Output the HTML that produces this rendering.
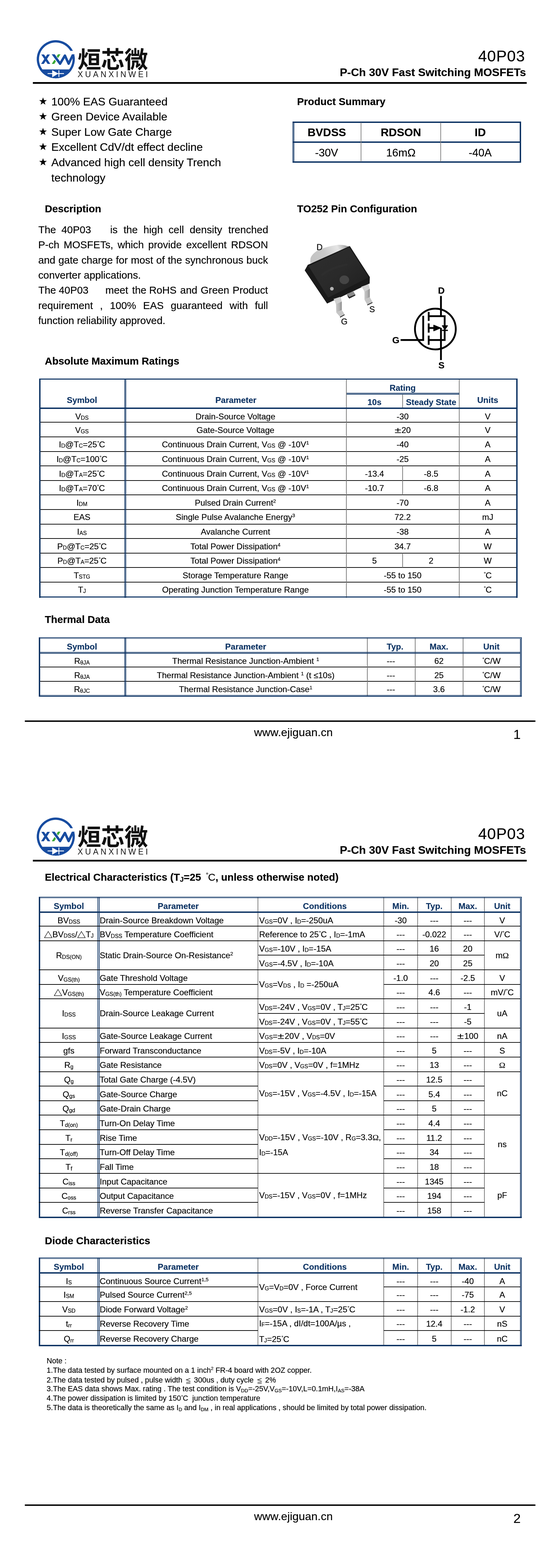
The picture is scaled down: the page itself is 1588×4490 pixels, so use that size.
<!DOCTYPE html>
<html><head><meta charset="utf-8"><title>40P03 Datasheet</title>
<style>
html,body{margin:0;padding:0;background:#fff;}
body{width:1588px;height:4490px;position:relative;overflow:hidden;will-change:transform;font-family:"Liberation Sans",sans-serif;color:#000;}
.r{position:absolute;}
.t{position:absolute;white-space:pre;-webkit-text-stroke:0.22px currentColor;}
.s{font-size:66%;position:relative;}
.p{font-size:62%;position:relative;top:-0.57em;}
.dg{font-size:62%;position:relative;top:-0.54em;margin-right:-0.05em;margin-left:0.02em;}
.tri{display:inline-block;width:1.0em;height:0.84em;position:relative;top:0.08em;}
svg{position:absolute;overflow:visible;}
svg.tri{position:relative;}
svg.le{display:inline-block;position:relative;width:21.35px;height:18px;top:5px;}
</style></head><body>
<svg style="left:99.75px;top:110px" width="340" height="125" viewBox="0 0 340 125"><path d="M109.10 46.44 A51.25 51.25 0 1 1 107.12 40.50" fill="none" stroke="#174ca0" stroke-width="6.5"/><rect x="97" y="35.6" width="20" height="8" fill="#fff"/><path d="M13.5 88.8 A54.5 54.5 0 0 0 105.7 88.8 Z" fill="#174ca0"/><path d="M36.2 100.8 H83 M68.5 90.9 V110.4" stroke="#fff" stroke-width="2.4" fill="none"/><path d="M49.4 90.9 L49.4 111.3 L67.2 100.8 Z" fill="#fff"/><path d="M18.2 46.1 H26 L44 73.1 H36.2 Z M35 46.1 H42.8 L25.4 73.1 H17.6 Z" fill="#174ca0"/><path d="M65.9 45.5 H73.1 L55.3 73.1 H48.1 Z" fill="#3aa935"/><path d="M54 49 L65 63.5" stroke="#fff" stroke-width="10.5" fill="none"/><clipPath id="wc0"><rect x="40" y="45.5" width="80" height="40"/></clipPath><path clip-path="url(#wc0)" d="M50.2 42.8 L71.9 72.4 L85.7 49 L96.3 72.4 L110.6 43" fill="none" stroke="#174ca0" stroke-width="6.9" stroke-linejoin="round"/><text x="121.9 189.1 256.3" y="84.8" font-family="Liberation Sans, Noto Sans CJK SC, sans-serif" font-size="67.2" font-weight="bold" fill="#111">烜芯微</text><text x="122" y="111.3" font-family="Liberation Sans, sans-serif" font-size="23" letter-spacing="6.15" fill="#111">XUANXINWEI</text></svg>
<div class="r" style="left:94px;top:235px;width:1413px;height:4.7px;background:#000"></div>
<div class="t" style="top:139px;font-size:44.6px;line-height:44.6px;left:302.6px;width:1200px;text-align:right;letter-spacing:1.1px;">40P03</div>
<div class="t" style="top:191px;font-size:32px;line-height:32px;font-weight:bold;left:305px;width:1200px;text-align:right;">P-Ch 30V Fast Switching MOSFETs</div>
<svg style="left:0;top:0" width="1" height="1"><polygon points="123.10,278.87 125.82,286.69 134.08,286.86 127.49,291.85 129.89,299.77 123.10,295.04 116.31,299.77 118.71,291.85 112.12,286.86 120.38,286.69" fill="#000"/></svg>
<div class="t" style="top:275px;font-size:32px;line-height:32px;left:146.8px;">100% EAS Guaranteed</div>
<svg style="left:0;top:0" width="1" height="1"><polygon points="123.10,321.87 125.82,329.69 134.08,329.86 127.49,334.85 129.89,342.77 123.10,338.04 116.31,342.77 118.71,334.85 112.12,329.86 120.38,329.69" fill="#000"/></svg>
<div class="t" style="top:318px;font-size:32px;line-height:32px;left:146.8px;">Green Device Available</div>
<svg style="left:0;top:0" width="1" height="1"><polygon points="123.10,365.87 125.82,373.69 134.08,373.86 127.49,378.85 129.89,386.77 123.10,382.04 116.31,386.77 118.71,378.85 112.12,373.86 120.38,373.69" fill="#000"/></svg>
<div class="t" style="top:362px;font-size:32px;line-height:32px;left:146.8px;">Super Low Gate Charge</div>
<svg style="left:0;top:0" width="1" height="1"><polygon points="123.10,408.87 125.82,416.69 134.08,416.86 127.49,421.85 129.89,429.77 123.10,425.04 116.31,429.77 118.71,421.85 112.12,416.86 120.38,416.69" fill="#000"/></svg>
<div class="t" style="top:405px;font-size:32px;line-height:32px;left:146.8px;">Excellent CdV/dt effect decline</div>
<svg style="left:0;top:0" width="1" height="1"><polygon points="123.10,452.87 125.82,460.69 134.08,460.86 127.49,465.85 129.89,473.77 123.10,469.04 116.31,473.77 118.71,465.85 112.12,460.86 120.38,460.69" fill="#000"/></svg>
<div class="t" style="top:449px;font-size:32px;line-height:32px;left:146.8px;">Advanced high cell density Trench</div>
<div class="t" style="top:493px;font-size:32px;line-height:32px;left:146.8px;">technology</div>
<div class="t" style="top:276px;font-size:29.35px;line-height:29.35px;font-weight:bold;left:850px;">Product Summary</div>
<div class="r" style="left:837px;top:348.1px;width:653.9px;height:3.7px;background:#0e3464"></div>
<div class="r" style="left:837px;top:462px;width:653.9px;height:3.7px;background:#0e3464"></div>
<div class="r" style="left:837px;top:348.1px;width:1.9px;height:117.6px;background:#0e3464"></div>
<div class="r" style="left:839.9px;top:348.1px;width:2.2px;height:117.6px;background:#0e3464"></div>
<div class="r" style="left:1487.1px;top:348.1px;width:3.8px;height:117.6px;background:#0e3464"></div>
<div class="r" style="left:837px;top:405.1px;width:653.9px;height:3.6px;background:#0e3464"></div>
<div class="r" style="left:1032px;top:351.1px;width:2px;height:111.6px;background:#808080"></div>
<div class="r" style="left:1260px;top:351.1px;width:2px;height:111.6px;background:#808080"></div>
<div class="t" style="top:363px;font-size:32px;line-height:32px;font-weight:bold;left:335px;width:1200px;text-align:center;">BVDSS</div>
<div class="t" style="top:422px;font-size:31.2px;line-height:31.2px;left:334.5px;width:1200px;text-align:center;">-30V</div>
<div class="t" style="top:363px;font-size:32px;line-height:32px;font-weight:bold;left:547px;width:1200px;text-align:center;">RDSON</div>
<div class="t" style="top:422px;font-size:31.2px;line-height:31.2px;left:547px;width:1200px;text-align:center;">16mΩ</div>
<div class="t" style="top:363px;font-size:32px;line-height:32px;font-weight:bold;left:774px;width:1200px;text-align:center;">ID</div>
<div class="t" style="top:422px;font-size:31.2px;line-height:31.2px;left:774px;width:1200px;text-align:center;">-40A</div>
<div class="t" style="top:583px;font-size:29.35px;line-height:29.35px;font-weight:bold;left:128.2px;">Description</div>
<div class="t" style="top:583px;font-size:29.35px;line-height:29.35px;font-weight:bold;left:850px;">TO252 Pin Configuration</div>
<div class="t" style="top:643px;font-size:29.35px;line-height:29.35px;left:0px;width:800px;height:30px;"><span style="position:absolute;left:109.8px">The</span><span style="position:absolute;left:175.8px">40P03</span><span style="position:absolute;left:315.2px">is</span><span style="position:absolute;left:353.4px">the</span><span style="position:absolute;left:410.5px">high</span><span style="position:absolute;left:482.2px">cell</span><span style="position:absolute;left:542.7px">density</span><span style="position:absolute;left:653.3px">trenched</span></div>
<div class="t" style="top:686px;font-size:29.35px;line-height:29.35px;left:109.4px;width:657.5px;white-space:pre-wrap;text-align:justify;text-align-last:justify;">P-ch MOSFETs, which provide excellent RDSON</div>
<div class="t" style="top:730px;font-size:29.35px;line-height:29.35px;left:109.4px;width:657.5px;white-space:pre-wrap;text-align:justify;text-align-last:justify;">and gate charge for most of the synchronous buck</div>
<div class="t" style="top:773px;font-size:29.35px;line-height:29.35px;left:109.4px;width:657.5px;white-space:pre-wrap;">converter applications.</div>
<div class="t" style="top:816px;font-size:29.35px;line-height:29.35px;left:0px;width:800px;height:30px;"><span style="position:absolute;left:109.8px">The</span><span style="position:absolute;left:168.3px">40P03</span><span style="position:absolute;left:301.5px">meet</span><span style="position:absolute;left:378px">the</span><span style="position:absolute;left:426.8px">RoHS</span><span style="position:absolute;left:515.6px">and</span><span style="position:absolute;left:574.3px">Green</span><span style="position:absolute;left:665.6px">Product</span></div>
<div class="t" style="top:860px;font-size:29.35px;line-height:29.35px;left:109.4px;width:657.5px;white-space:pre-wrap;text-align:justify;text-align-last:justify;">requirement , 100% EAS guaranteed with full</div>
<div class="t" style="top:903px;font-size:29.35px;line-height:29.35px;left:109.4px;width:657.5px;white-space:pre-wrap;">function reliability approved.</div>
<svg style="left:860px;top:680px" width="260" height="270" viewBox="0 0 260 270"><defs>
<linearGradient id="tab" x1="0" y1="0.2" x2="1" y2="0"><stop offset="0" stop-color="#c4c4c4"/><stop offset="0.3" stop-color="#c9c9c9"/><stop offset="0.68" stop-color="#e6e6e6"/><stop offset="0.86" stop-color="#b4b4b4"/><stop offset="1" stop-color="#787878"/></linearGradient>
<linearGradient id="top" x1="0" y1="0" x2="1" y2="1"><stop offset="0" stop-color="#2e2e2e"/><stop offset="0.5" stop-color="#2a2a2a"/><stop offset="1" stop-color="#1d1d1d"/></linearGradient>
<linearGradient id="lead" x1="0" y1="0" x2="1" y2="0"><stop offset="0" stop-color="#c9c9c9"/><stop offset="0.6" stop-color="#b0b0b0"/><stop offset="1" stop-color="#8e8e8e"/></linearGradient>
<linearGradient id="leadv" x1="0" y1="0" x2="0" y2="1"><stop offset="0" stop-color="#8a8a8a"/><stop offset="0.25" stop-color="#d8d8d8"/><stop offset="1" stop-color="#b0b0b0"/></linearGradient>
</defs><g transform="scale(0.26344)"><path d="M104 279 L108 226 Q118 190 169 152 Q230 118 300 101 Q380 82 414 80 Q470 80 502 92 L532 98 L300 250 Z" fill="url(#tab)"/><path d="M45 358 L78 298 L535 93 L752 430 L750 500 L288 718 Z" fill="#1a1a1a"/><path d="M88 312 L528 106 L740 434 L300 654 Z" fill="url(#top)"/><path d="M235 405 Q330 330 500 295" fill="none" stroke="#343434" stroke-width="24" stroke-linecap="round" opacity="0.35"/><ellipse cx="475" cy="460" rx="52" ry="47" fill="#454545"/><circle cx="340" cy="557" r="20" fill="#b4b4b4"/><path d="M504 612 L574 586 L594 619 L528 646 Z" fill="#8c8c8c"/><path d="M504 612 L528 646 L594 619 L594 632 L529 664 L515 648 Z" fill="#262626"/><path d="M357 669 L428 646 L438 656 L448 700 L385 730 Q376 692 357 669 Z" fill="#d0d0d0"/><path d="M385 726 L448 697 L448 789 L388 816 Z" fill="url(#lead)"/><path d="M388 816 L448 789 L478 835 L428 862 Z" fill="#c6c6c6"/><path d="M428 862 L478 835 L478 845 L430 872 Z" fill="#303030"/><path d="M658 536 L734 509 L742 519 L752 560 L694 592 Q684 560 658 536 Z" fill="#d0d0d0"/><path d="M694 589 L752 558 L752 649 L694 676 Z" fill="url(#lead)"/><path d="M694 676 L752 649 L781 702 L724 729 Z" fill="#c6c6c6"/><path d="M724 729 L781 702 L781 712 L726 739 Z" fill="#303030"/></g></svg>
<div class="t" style="top:696px;font-size:24px;line-height:24px;color:#111;left:905.8px;-webkit-text-stroke:0.5px #111;">D</div>
<div class="t" style="top:874px;font-size:24px;line-height:24px;color:#111;left:1056.8px;-webkit-text-stroke:0.5px #111;">S</div>
<div class="t" style="top:909px;font-size:24px;line-height:24px;color:#111;left:975.8px;-webkit-text-stroke:0.5px #111;">G</div>
<svg style="left:1110px;top:810px" width="230" height="270" viewBox="1110 810 230 270"><g fill="none" stroke="#000" stroke-width="5.2"><circle cx="1245.7" cy="942.2" r="58.4"/><path d="M1261.7 847.5 V905.4"/><path d="M1226.6 905.4 H1272.3 V973.7 H1226.6"/><path d="M1261.7 939.2 V1031"/><path d="M1226.6 939.2 H1243"/><path d="M1146.2 973.7 H1210.9 V904.2"/><path d="M1226.6 893.3 V918.7 M1226.6 925.9 V952.5 M1226.6 960.9 V987.5"/><path d="M1264.6 946 H1281.5" stroke-width="3.5"/></g><path d="M1241 931 V947.6 L1261 939.2 Z" fill="#000" stroke="#000" stroke-width="2" stroke-linejoin="round"/><path d="M1265.4 932.6 H1280.6 L1273 944.2 Z" fill="#000" stroke="#000" stroke-width="2" stroke-linejoin="round"/></svg>
<div class="t" style="top:819px;font-size:26.5px;line-height:26.5px;font-weight:bold;left:662.8px;width:1200px;text-align:center;">D</div>
<div class="t" style="top:961px;font-size:26.5px;line-height:26.5px;font-weight:bold;left:532.6px;width:1200px;text-align:center;">G</div>
<div class="t" style="top:1033px;font-size:26.5px;line-height:26.5px;font-weight:bold;left:663.1px;width:1200px;text-align:center;">S</div>
<div class="t" style="top:1019px;font-size:29.35px;line-height:29.35px;font-weight:bold;left:128.2px;">Absolute Maximum Ratings</div>
<div class="r" style="left:111.5px;top:1208px;width:880px;height:2px;background:#000"></div>
<div class="r" style="left:991.5px;top:1208px;width:489.4px;height:2px;background:#000"></div>
<div class="r" style="left:111.5px;top:1250px;width:880px;height:2px;background:#000"></div>
<div class="r" style="left:991.5px;top:1250px;width:489.4px;height:2px;background:#000"></div>
<div class="r" style="left:111.5px;top:1292px;width:880px;height:2px;background:#000"></div>
<div class="r" style="left:991.5px;top:1292px;width:489.4px;height:2px;background:#000"></div>
<div class="r" style="left:111.5px;top:1333px;width:880px;height:2px;background:#000"></div>
<div class="r" style="left:991.5px;top:1333px;width:489.4px;height:2px;background:#000"></div>
<div class="r" style="left:111.5px;top:1375px;width:880px;height:2px;background:#000"></div>
<div class="r" style="left:991.5px;top:1375px;width:489.4px;height:2px;background:#000"></div>
<div class="r" style="left:111.5px;top:1416px;width:880px;height:2px;background:#000"></div>
<div class="r" style="left:991.5px;top:1416px;width:489.4px;height:2px;background:#000"></div>
<div class="r" style="left:111.5px;top:1458px;width:880px;height:2px;background:#000"></div>
<div class="r" style="left:991.5px;top:1458px;width:489.4px;height:2px;background:#000"></div>
<div class="r" style="left:111.5px;top:1500px;width:880px;height:2px;background:#000"></div>
<div class="r" style="left:991.5px;top:1500px;width:489.4px;height:2px;background:#000"></div>
<div class="r" style="left:111.5px;top:1541px;width:880px;height:2px;background:#000"></div>
<div class="r" style="left:991.5px;top:1541px;width:489.4px;height:2px;background:#000"></div>
<div class="r" style="left:111.5px;top:1583px;width:880px;height:2px;background:#000"></div>
<div class="r" style="left:991.5px;top:1583px;width:489.4px;height:2px;background:#000"></div>
<div class="r" style="left:111.5px;top:1624px;width:880px;height:2px;background:#000"></div>
<div class="r" style="left:991.5px;top:1624px;width:489.4px;height:2px;background:#000"></div>
<div class="r" style="left:111.5px;top:1666px;width:880px;height:2px;background:#000"></div>
<div class="r" style="left:991.5px;top:1666px;width:489.4px;height:2px;background:#000"></div>
<div class="r" style="left:990px;top:1084px;width:2px;height:627.5px;background:#787878"></div>
<div class="r" style="left:1313px;top:1084px;width:2px;height:627.5px;background:#787878"></div>
<div class="r" style="left:1151px;top:1129px;width:2px;height:40px;background:#787878"></div>
<div class="r" style="left:1151px;top:1334.2px;width:2px;height:41.6px;background:#787878"></div>
<div class="r" style="left:1151px;top:1375.8px;width:2px;height:41.6px;background:#787878"></div>
<div class="r" style="left:1151px;top:1583.8px;width:2px;height:41.6px;background:#787878"></div>
<div class="r" style="left:356px;top:1084px;width:2px;height:627.5px;background:#0e3464"></div>
<div class="r" style="left:359px;top:1084px;width:2px;height:627.5px;background:#0e3464"></div>
<div class="r" style="left:991.5px;top:1125px;width:322.5px;height:1.5px;background:#0e3464"></div>
<div class="r" style="left:991.5px;top:1128px;width:322.5px;height:1.5px;background:#0e3464"></div>
<div class="r" style="left:111.5px;top:1166.8px;width:1369.4px;height:4.2px;background:#0e3464"></div>
<div class="r" style="left:111.5px;top:1084px;width:1369.4px;height:3.4px;background:#0e3464"></div>
<div class="r" style="left:111.5px;top:1707.9px;width:1369.4px;height:3.6px;background:#0e3464"></div>
<div class="r" style="left:111.5px;top:1084px;width:4px;height:627.5px;background:#0e3464"></div>
<div class="r" style="left:1477.1px;top:1084px;width:3.8px;height:627.5px;background:#0e3464"></div>
<div class="t" style="top:1134px;font-size:24px;line-height:24px;font-weight:bold;color:#0e3464;left:-365.5px;width:1200px;text-align:center;">Symbol</div>
<div class="t" style="top:1134px;font-size:24px;line-height:24px;font-weight:bold;color:#0e3464;left:75px;width:1200px;text-align:center;">Parameter</div>
<div class="t" style="top:1099px;font-size:24px;line-height:24px;font-weight:bold;color:#0e3464;left:552px;width:1200px;text-align:center;">Rating</div>
<div class="t" style="top:1140px;font-size:24px;line-height:24px;font-weight:bold;color:#0e3464;left:471.5px;width:1200px;text-align:center;">10s</div>
<div class="t" style="top:1140px;font-size:24px;line-height:24px;font-weight:bold;color:#0e3464;left:633.5px;width:1200px;text-align:center;">Steady State</div>
<div class="t" style="top:1134px;font-size:24px;line-height:24px;font-weight:bold;color:#0e3464;left:795.5px;width:1200px;text-align:center;">Units</div>
<div class="t" style="top:1181px;font-size:24px;line-height:24px;left:-365.5px;width:1200px;text-align:center;">V<span class="s" style="top:1px">DS</span></div>
<div class="t" style="top:1181px;font-size:24px;line-height:24px;left:73.7px;width:1200px;text-align:center;">Drain-Source Voltage</div>
<div class="t" style="top:1181px;font-size:24px;line-height:24px;left:552px;width:1200px;text-align:center;">-30</div>
<div class="t" style="top:1181px;font-size:24px;line-height:24px;left:795.5px;width:1200px;text-align:center;">V</div>
<div class="t" style="top:1220px;font-size:24px;line-height:24px;left:-365.5px;width:1200px;text-align:center;">V<span class="s" style="top:1px">GS</span></div>
<div class="t" style="top:1220px;font-size:24px;line-height:24px;left:73.7px;width:1200px;text-align:center;">Gate-Source Voltage</div>
<div class="t" style="top:1220px;font-size:24px;line-height:24px;left:552px;width:1200px;text-align:center;"><span style="display:inline-block;transform:scaleX(1.45);margin:0 4px 0 3px">±</span>20</div>
<div class="t" style="top:1220px;font-size:24px;line-height:24px;left:795.5px;width:1200px;text-align:center;">V</div>
<div class="t" style="top:1261px;font-size:24px;line-height:24px;left:-365.5px;width:1200px;text-align:center;">I<span class="s" style="top:1px">D</span>@T<span class="s" style="top:1px">C</span>=25<span class="dg">°</span>C</div>
<div class="t" style="top:1261px;font-size:24px;line-height:24px;left:73.7px;width:1200px;text-align:center;">Continuous Drain Current, V<span class="s" style="top:1px">GS</span> @ -10V<span class="p">1</span></div>
<div class="t" style="top:1261px;font-size:24px;line-height:24px;left:552px;width:1200px;text-align:center;">-40</div>
<div class="t" style="top:1261px;font-size:24px;line-height:24px;left:795.5px;width:1200px;text-align:center;">A</div>
<div class="t" style="top:1303px;font-size:24px;line-height:24px;left:-365.5px;width:1200px;text-align:center;">I<span class="s" style="top:1px">D</span>@T<span class="s" style="top:1px">C</span>=100<span class="dg">°</span>C</div>
<div class="t" style="top:1303px;font-size:24px;line-height:24px;left:73.7px;width:1200px;text-align:center;">Continuous Drain Current, V<span class="s" style="top:1px">GS</span> @ -10V<span class="p">1</span></div>
<div class="t" style="top:1303px;font-size:24px;line-height:24px;left:552px;width:1200px;text-align:center;">-25</div>
<div class="t" style="top:1303px;font-size:24px;line-height:24px;left:795.5px;width:1200px;text-align:center;">A</div>
<div class="t" style="top:1345px;font-size:24px;line-height:24px;left:-365.5px;width:1200px;text-align:center;">I<span class="s" style="top:1px">D</span>@T<span class="s" style="top:1px">A</span>=25<span class="dg">°</span>C</div>
<div class="t" style="top:1345px;font-size:24px;line-height:24px;left:73.7px;width:1200px;text-align:center;">Continuous Drain Current, V<span class="s" style="top:1px">GS</span> @ -10V<span class="p">1</span></div>
<div class="t" style="top:1345px;font-size:24px;line-height:24px;left:471.5px;width:1200px;text-align:center;">-13.4</div>
<div class="t" style="top:1345px;font-size:24px;line-height:24px;left:633.5px;width:1200px;text-align:center;">-8.5</div>
<div class="t" style="top:1345px;font-size:24px;line-height:24px;left:795.5px;width:1200px;text-align:center;">A</div>
<div class="t" style="top:1386px;font-size:24px;line-height:24px;left:-365.5px;width:1200px;text-align:center;">I<span class="s" style="top:1px">D</span>@T<span class="s" style="top:1px">A</span>=70<span class="dg">°</span>C</div>
<div class="t" style="top:1386px;font-size:24px;line-height:24px;left:73.7px;width:1200px;text-align:center;">Continuous Drain Current, V<span class="s" style="top:1px">GS</span> @ -10V<span class="p">1</span></div>
<div class="t" style="top:1386px;font-size:24px;line-height:24px;left:471.5px;width:1200px;text-align:center;">-10.7</div>
<div class="t" style="top:1386px;font-size:24px;line-height:24px;left:633.5px;width:1200px;text-align:center;">-6.8</div>
<div class="t" style="top:1386px;font-size:24px;line-height:24px;left:795.5px;width:1200px;text-align:center;">A</div>
<div class="t" style="top:1428px;font-size:24px;line-height:24px;left:-365.5px;width:1200px;text-align:center;">I<span class="s" style="top:1px">DM</span></div>
<div class="t" style="top:1428px;font-size:24px;line-height:24px;left:73.7px;width:1200px;text-align:center;">Pulsed Drain Current<span class="p">2</span></div>
<div class="t" style="top:1428px;font-size:24px;line-height:24px;left:552px;width:1200px;text-align:center;">-70</div>
<div class="t" style="top:1428px;font-size:24px;line-height:24px;left:795.5px;width:1200px;text-align:center;">A</div>
<div class="t" style="top:1469px;font-size:24px;line-height:24px;left:-365.5px;width:1200px;text-align:center;">EAS</div>
<div class="t" style="top:1469px;font-size:24px;line-height:24px;left:73.7px;width:1200px;text-align:center;">Single Pulse Avalanche Energy<span class="p">3</span></div>
<div class="t" style="top:1469px;font-size:24px;line-height:24px;left:552px;width:1200px;text-align:center;">72.2</div>
<div class="t" style="top:1469px;font-size:24px;line-height:24px;left:795.5px;width:1200px;text-align:center;">mJ</div>
<div class="t" style="top:1511px;font-size:24px;line-height:24px;left:-365.5px;width:1200px;text-align:center;">I<span class="s" style="top:1px">AS</span></div>
<div class="t" style="top:1511px;font-size:24px;line-height:24px;left:73.7px;width:1200px;text-align:center;">Avalanche Current</div>
<div class="t" style="top:1511px;font-size:24px;line-height:24px;left:552px;width:1200px;text-align:center;">-38</div>
<div class="t" style="top:1511px;font-size:24px;line-height:24px;left:795.5px;width:1200px;text-align:center;">A</div>
<div class="t" style="top:1553px;font-size:24px;line-height:24px;left:-365.5px;width:1200px;text-align:center;">P<span class="s" style="top:1px">D</span>@T<span class="s" style="top:1px">C</span>=25<span class="dg">°</span>C</div>
<div class="t" style="top:1553px;font-size:24px;line-height:24px;left:73.7px;width:1200px;text-align:center;">Total Power Dissipation<span class="p">4</span></div>
<div class="t" style="top:1553px;font-size:24px;line-height:24px;left:552px;width:1200px;text-align:center;">34.7</div>
<div class="t" style="top:1553px;font-size:24px;line-height:24px;left:795.5px;width:1200px;text-align:center;">W</div>
<div class="t" style="top:1594px;font-size:24px;line-height:24px;left:-365.5px;width:1200px;text-align:center;">P<span class="s" style="top:1px">D</span>@T<span class="s" style="top:1px">A</span>=25<span class="dg">°</span>C</div>
<div class="t" style="top:1594px;font-size:24px;line-height:24px;left:73.7px;width:1200px;text-align:center;">Total Power Dissipation<span class="p">4</span></div>
<div class="t" style="top:1594px;font-size:24px;line-height:24px;left:471.5px;width:1200px;text-align:center;">5</div>
<div class="t" style="top:1594px;font-size:24px;line-height:24px;left:633.5px;width:1200px;text-align:center;">2</div>
<div class="t" style="top:1594px;font-size:24px;line-height:24px;left:795.5px;width:1200px;text-align:center;">W</div>
<div class="t" style="top:1636px;font-size:24px;line-height:24px;left:-365.5px;width:1200px;text-align:center;">T<span class="s" style="top:1px">STG</span></div>
<div class="t" style="top:1636px;font-size:24px;line-height:24px;left:73.7px;width:1200px;text-align:center;">Storage Temperature Range</div>
<div class="t" style="top:1636px;font-size:24px;line-height:24px;left:552px;width:1200px;text-align:center;">-55 to 150</div>
<div class="t" style="top:1636px;font-size:24px;line-height:24px;left:795.5px;width:1200px;text-align:center;"><span class="dg">°</span>C</div>
<div class="t" style="top:1677px;font-size:24px;line-height:24px;left:-365.5px;width:1200px;text-align:center;">T<span class="s" style="top:1px">J</span></div>
<div class="t" style="top:1677px;font-size:24px;line-height:24px;left:73.7px;width:1200px;text-align:center;">Operating Junction Temperature Range</div>
<div class="t" style="top:1677px;font-size:24px;line-height:24px;left:552px;width:1200px;text-align:center;">-55 to 150</div>
<div class="t" style="top:1677px;font-size:24px;line-height:24px;left:795.5px;width:1200px;text-align:center;"><span class="dg">°</span>C</div>
<div class="t" style="top:1759px;font-size:29.35px;line-height:29.35px;font-weight:bold;left:128.2px;">Thermal Data</div>
<div class="r" style="left:111px;top:1909px;width:1378px;height:2px;background:#000"></div>
<div class="r" style="left:111px;top:1950px;width:1378px;height:2px;background:#000"></div>
<div class="r" style="left:1050px;top:1825.2px;width:2px;height:169.8px;background:#787878"></div>
<div class="r" style="left:1187px;top:1825.2px;width:2px;height:169.8px;background:#787878"></div>
<div class="r" style="left:1324px;top:1825.2px;width:2px;height:169.8px;background:#787878"></div>
<div class="r" style="left:356px;top:1825.2px;width:2px;height:169.8px;background:#0e3464"></div>
<div class="r" style="left:359px;top:1825.2px;width:2px;height:169.8px;background:#0e3464"></div>
<div class="r" style="left:111px;top:1867px;width:1379px;height:2px;background:#0e3464"></div>
<div class="r" style="left:111px;top:1870px;width:1379px;height:2px;background:#0e3464"></div>
<div class="r" style="left:111px;top:1825.2px;width:1382px;height:2px;background:#0e3464"></div>
<div class="r" style="left:111px;top:1827.9px;width:1379px;height:1.1px;background:#0e3464"></div>
<div class="r" style="left:111px;top:1992.4px;width:1382px;height:2.6px;background:#0e3464"></div>
<div class="r" style="left:111px;top:1990.2px;width:1379px;height:1.2px;background:#0e3464"></div>
<div class="r" style="left:111px;top:1825.2px;width:4.1px;height:169.8px;background:#0e3464"></div>
<div class="r" style="left:1490.9px;top:1825.2px;width:2.1px;height:169.8px;background:#0e3464"></div>
<div class="r" style="left:1488px;top:1827.9px;width:2.1px;height:164.8px;background:#0e3464"></div>
<div class="t" style="top:1840px;font-size:24px;line-height:24px;font-weight:bold;color:#0e3464;left:-365.5px;width:1200px;text-align:center;">Symbol</div>
<div class="t" style="top:1840px;font-size:24px;line-height:24px;font-weight:bold;color:#0e3464;left:103px;width:1200px;text-align:center;">Parameter</div>
<div class="t" style="top:1840px;font-size:24px;line-height:24px;font-weight:bold;color:#0e3464;left:530.4px;width:1200px;text-align:center;">Typ.</div>
<div class="t" style="top:1840px;font-size:24px;line-height:24px;font-weight:bold;color:#0e3464;left:656px;width:1200px;text-align:center;">Max.</div>
<div class="t" style="top:1840px;font-size:24px;line-height:24px;font-weight:bold;color:#0e3464;left:806px;width:1200px;text-align:center;">Unit</div>
<div class="t" style="top:1881px;font-size:24px;line-height:24px;left:-365.5px;width:1200px;text-align:center;">R<span class="s" style="top:2px">θJA</span></div>
<div class="t" style="top:1881px;font-size:24px;line-height:24px;left:103px;width:1200px;text-align:center;">Thermal Resistance Junction-Ambient <span class="p">1</span></div>
<div class="t" style="top:1881px;font-size:24px;line-height:24px;left:518.5px;width:1200px;text-align:center;">---</div>
<div class="t" style="top:1881px;font-size:24px;line-height:24px;left:656px;width:1200px;text-align:center;">62</div>
<div class="t" style="top:1881px;font-size:24px;line-height:24px;left:806px;width:1200px;text-align:center;"><span class="dg">°</span>C<span style="letter-spacing:0.6px">/</span>W</div>
<div class="t" style="top:1922px;font-size:24px;line-height:24px;left:-365.5px;width:1200px;text-align:center;">R<span class="s" style="top:2px">θJA</span></div>
<div class="t" style="top:1922px;font-size:24px;line-height:24px;left:103px;width:1200px;text-align:center;">Thermal Resistance Junction-Ambient <span class="p">1</span> (t ≤10s)</div>
<div class="t" style="top:1922px;font-size:24px;line-height:24px;left:518.5px;width:1200px;text-align:center;">---</div>
<div class="t" style="top:1922px;font-size:24px;line-height:24px;left:656px;width:1200px;text-align:center;">25</div>
<div class="t" style="top:1922px;font-size:24px;line-height:24px;left:806px;width:1200px;text-align:center;"><span class="dg">°</span>C<span style="letter-spacing:0.6px">/</span>W</div>
<div class="t" style="top:1962px;font-size:24px;line-height:24px;left:-365.5px;width:1200px;text-align:center;">R<span class="s" style="top:2px">θJC</span></div>
<div class="t" style="top:1962px;font-size:24px;line-height:24px;left:103px;width:1200px;text-align:center;">Thermal Resistance Junction-Case<span class="p">1</span></div>
<div class="t" style="top:1962px;font-size:24px;line-height:24px;left:518.5px;width:1200px;text-align:center;">---</div>
<div class="t" style="top:1962px;font-size:24px;line-height:24px;left:656px;width:1200px;text-align:center;">3.6</div>
<div class="t" style="top:1962px;font-size:24px;line-height:24px;left:806px;width:1200px;text-align:center;"><span class="dg">°</span>C<span style="letter-spacing:0.6px">/</span>W</div>
<div class="r" style="left:71px;top:2062.7px;width:1460.5px;height:4.4px;background:#000"></div>
<div class="t" style="top:2081px;font-size:32px;line-height:32px;left:727px;letter-spacing:0.2px;">www.ejiguan.cn</div>
<div class="t" style="top:2085px;font-size:37.4px;line-height:37.4px;left:879.5px;width:1200px;text-align:center;">1</div>
<svg style="left:99.75px;top:2336.4px" width="340" height="125" viewBox="0 0 340 125"><path d="M109.10 46.44 A51.25 51.25 0 1 1 107.12 40.50" fill="none" stroke="#174ca0" stroke-width="6.5"/><rect x="97" y="35.6" width="20" height="8" fill="#fff"/><path d="M13.5 88.8 A54.5 54.5 0 0 0 105.7 88.8 Z" fill="#174ca0"/><path d="M36.2 100.8 H83 M68.5 90.9 V110.4" stroke="#fff" stroke-width="2.4" fill="none"/><path d="M49.4 90.9 L49.4 111.3 L67.2 100.8 Z" fill="#fff"/><path d="M18.2 46.1 H26 L44 73.1 H36.2 Z M35 46.1 H42.8 L25.4 73.1 H17.6 Z" fill="#174ca0"/><path d="M65.9 45.5 H73.1 L55.3 73.1 H48.1 Z" fill="#3aa935"/><path d="M54 49 L65 63.5" stroke="#fff" stroke-width="10.5" fill="none"/><clipPath id="wc2227"><rect x="40" y="45.5" width="80" height="40"/></clipPath><path clip-path="url(#wc2227)" d="M50.2 42.8 L71.9 72.4 L85.7 49 L96.3 72.4 L110.6 43" fill="none" stroke="#174ca0" stroke-width="6.9" stroke-linejoin="round"/><text x="121.9 189.1 256.3" y="84.8" font-family="Liberation Sans, Noto Sans CJK SC, sans-serif" font-size="67.2" font-weight="bold" fill="#111">烜芯微</text><text x="122" y="111.3" font-family="Liberation Sans, sans-serif" font-size="23" letter-spacing="6.15" fill="#111">XUANXINWEI</text></svg>
<div class="r" style="left:94px;top:2462px;width:1413px;height:4.7px;background:#000"></div>
<div class="t" style="top:2366px;font-size:44.6px;line-height:44.6px;left:302.6px;width:1200px;text-align:right;letter-spacing:1.1px;">40P03</div>
<div class="t" style="top:2418px;font-size:32px;line-height:32px;font-weight:bold;left:305px;width:1200px;text-align:right;">P-Ch 30V Fast Switching MOSFETs</div>
<div class="t" style="top:2497px;font-size:29.35px;line-height:29.35px;font-weight:bold;left:128.2px;">Electrical Characteristics (T<span class="s" style="top:3px">J</span>=25 <span style="font-weight:normal;margin-left:-3px"> <span class="dg">°</span>C</span>, unless otherwise noted)</div>
<div class="r" style="left:737px;top:2568.1px;width:2px;height:919.8px;background:#787878"></div>
<div class="r" style="left:1097px;top:2568.1px;width:2px;height:919.8px;background:#787878"></div>
<div class="r" style="left:1194px;top:2568.1px;width:2px;height:919.8px;background:#787878"></div>
<div class="r" style="left:1290px;top:2568.1px;width:2px;height:919.8px;background:#787878"></div>
<div class="r" style="left:1385px;top:2568.1px;width:2px;height:919.8px;background:#787878"></div>
<div class="r" style="left:279px;top:2568.1px;width:2px;height:919.8px;background:#0e3464"></div>
<div class="r" style="left:283px;top:2568.1px;width:2px;height:919.8px;background:#0e3464"></div>
<div class="r" style="left:111.1px;top:2609.9px;width:1378.9px;height:3.8px;background:#0e3464"></div>
<div class="r" style="left:111.1px;top:2568.1px;width:1381.9px;height:2px;background:#0e3464"></div>
<div class="r" style="left:111.1px;top:2571px;width:1378.9px;height:1.1px;background:#0e3464"></div>
<div class="r" style="left:111.1px;top:3484px;width:1381.9px;height:3.9px;background:#0e3464"></div>
<div class="r" style="left:111.1px;top:2568.1px;width:3.8px;height:919.8px;background:#0e3464"></div>
<div class="r" style="left:1491px;top:2568.1px;width:2px;height:919.8px;background:#0e3464"></div>
<div class="r" style="left:1488px;top:2571px;width:2.1px;height:916.9px;background:#0e3464"></div>
<div class="t" style="top:2583px;font-size:24px;line-height:24px;font-weight:bold;color:#0e3464;left:-403px;width:1200px;text-align:center;">Symbol</div>
<div class="t" style="top:2583px;font-size:24px;line-height:24px;font-weight:bold;color:#0e3464;left:-90px;width:1200px;text-align:center;">Parameter</div>
<div class="t" style="top:2583px;font-size:24px;line-height:24px;font-weight:bold;color:#0e3464;left:329.5px;width:1200px;text-align:center;">Conditions</div>
<div class="t" style="top:2583px;font-size:24px;line-height:24px;font-weight:bold;color:#0e3464;left:546.5px;width:1200px;text-align:center;">Min.</div>
<div class="t" style="top:2583px;font-size:24px;line-height:24px;font-weight:bold;color:#0e3464;left:642.5px;width:1200px;text-align:center;">Typ.</div>
<div class="t" style="top:2583px;font-size:24px;line-height:24px;font-weight:bold;color:#0e3464;left:738.4px;width:1200px;text-align:center;">Max.</div>
<div class="t" style="top:2583px;font-size:24px;line-height:24px;font-weight:bold;color:#0e3464;left:837px;width:1200px;text-align:center;">Unit</div>
<div class="r" style="left:111.1px;top:2651px;width:626.9px;height:2px;background:#000"></div>
<div class="r" style="left:738px;top:2651px;width:360.4px;height:2px;background:#0a0a0a"></div>
<div class="r" style="left:1098.4px;top:2651px;width:287.8px;height:2px;background:#0a0a0a"></div>
<div class="r" style="left:1386.2px;top:2651px;width:102.8px;height:2px;background:#0a0a0a"></div>
<div class="r" style="left:111.1px;top:2693px;width:626.9px;height:2px;background:#000"></div>
<div class="r" style="left:738px;top:2693px;width:360.4px;height:2px;background:#0a0a0a"></div>
<div class="r" style="left:1098.4px;top:2693px;width:287.8px;height:2px;background:#0a0a0a"></div>
<div class="r" style="left:1386.2px;top:2693px;width:102.8px;height:2px;background:#0a0a0a"></div>
<div class="r" style="left:738px;top:2734px;width:360.4px;height:2px;background:#0a0a0a"></div>
<div class="r" style="left:1098.4px;top:2734px;width:287.8px;height:2px;background:#0a0a0a"></div>
<div class="r" style="left:111.1px;top:2776px;width:626.9px;height:2px;background:#000"></div>
<div class="r" style="left:738px;top:2776px;width:360.4px;height:2px;background:#0a0a0a"></div>
<div class="r" style="left:1098.4px;top:2776px;width:287.8px;height:2px;background:#0a0a0a"></div>
<div class="r" style="left:1386.2px;top:2776px;width:102.8px;height:2px;background:#0a0a0a"></div>
<div class="r" style="left:111.1px;top:2818px;width:626.9px;height:2px;background:#000"></div>
<div class="r" style="left:1098.4px;top:2818px;width:287.8px;height:2px;background:#0a0a0a"></div>
<div class="r" style="left:1386.2px;top:2818px;width:102.8px;height:2px;background:#0a0a0a"></div>
<div class="r" style="left:111.1px;top:2859px;width:626.9px;height:2px;background:#000"></div>
<div class="r" style="left:738px;top:2859px;width:360.4px;height:2px;background:#0a0a0a"></div>
<div class="r" style="left:1098.4px;top:2859px;width:287.8px;height:2px;background:#0a0a0a"></div>
<div class="r" style="left:1386.2px;top:2859px;width:102.8px;height:2px;background:#0a0a0a"></div>
<div class="r" style="left:738px;top:2901px;width:360.4px;height:2px;background:#0a0a0a"></div>
<div class="r" style="left:1098.4px;top:2901px;width:287.8px;height:2px;background:#0a0a0a"></div>
<div class="r" style="left:111.1px;top:2943px;width:626.9px;height:2px;background:#000"></div>
<div class="r" style="left:738px;top:2943px;width:360.4px;height:2px;background:#0a0a0a"></div>
<div class="r" style="left:1098.4px;top:2943px;width:287.8px;height:2px;background:#0a0a0a"></div>
<div class="r" style="left:1386.2px;top:2943px;width:102.8px;height:2px;background:#0a0a0a"></div>
<div class="r" style="left:111.1px;top:2984px;width:626.9px;height:2px;background:#000"></div>
<div class="r" style="left:738px;top:2984px;width:360.4px;height:2px;background:#0a0a0a"></div>
<div class="r" style="left:1098.4px;top:2984px;width:287.8px;height:2px;background:#0a0a0a"></div>
<div class="r" style="left:1386.2px;top:2984px;width:102.8px;height:2px;background:#0a0a0a"></div>
<div class="r" style="left:111.1px;top:3026px;width:626.9px;height:2px;background:#000"></div>
<div class="r" style="left:738px;top:3026px;width:360.4px;height:2px;background:#0a0a0a"></div>
<div class="r" style="left:1098.4px;top:3026px;width:287.8px;height:2px;background:#0a0a0a"></div>
<div class="r" style="left:1386.2px;top:3026px;width:102.8px;height:2px;background:#0a0a0a"></div>
<div class="r" style="left:111.1px;top:3068px;width:626.9px;height:2px;background:#000"></div>
<div class="r" style="left:738px;top:3068px;width:360.4px;height:2px;background:#0a0a0a"></div>
<div class="r" style="left:1098.4px;top:3068px;width:287.8px;height:2px;background:#0a0a0a"></div>
<div class="r" style="left:1386.2px;top:3068px;width:102.8px;height:2px;background:#0a0a0a"></div>
<div class="r" style="left:111.1px;top:3109px;width:626.9px;height:2px;background:#000"></div>
<div class="r" style="left:1098.4px;top:3109px;width:287.8px;height:2px;background:#0a0a0a"></div>
<div class="r" style="left:111.1px;top:3151px;width:626.9px;height:2px;background:#000"></div>
<div class="r" style="left:1098.4px;top:3151px;width:287.8px;height:2px;background:#0a0a0a"></div>
<div class="r" style="left:111.1px;top:3192px;width:626.9px;height:2px;background:#000"></div>
<div class="r" style="left:738px;top:3192px;width:360.4px;height:2px;background:#0a0a0a"></div>
<div class="r" style="left:1098.4px;top:3192px;width:287.8px;height:2px;background:#0a0a0a"></div>
<div class="r" style="left:1386.2px;top:3192px;width:102.8px;height:2px;background:#0a0a0a"></div>
<div class="r" style="left:111.1px;top:3234px;width:626.9px;height:2px;background:#000"></div>
<div class="r" style="left:1098.4px;top:3234px;width:287.8px;height:2px;background:#0a0a0a"></div>
<div class="r" style="left:111.1px;top:3276px;width:626.9px;height:2px;background:#000"></div>
<div class="r" style="left:1098.4px;top:3276px;width:287.8px;height:2px;background:#0a0a0a"></div>
<div class="r" style="left:111.1px;top:3317px;width:626.9px;height:2px;background:#000"></div>
<div class="r" style="left:1098.4px;top:3317px;width:287.8px;height:2px;background:#0a0a0a"></div>
<div class="r" style="left:111.1px;top:3359px;width:626.9px;height:2px;background:#000"></div>
<div class="r" style="left:738px;top:3359px;width:360.4px;height:2px;background:#0a0a0a"></div>
<div class="r" style="left:1098.4px;top:3359px;width:287.8px;height:2px;background:#0a0a0a"></div>
<div class="r" style="left:1386.2px;top:3359px;width:102.8px;height:2px;background:#0a0a0a"></div>
<div class="r" style="left:111.1px;top:3401px;width:626.9px;height:2px;background:#000"></div>
<div class="r" style="left:1098.4px;top:3401px;width:287.8px;height:2px;background:#0a0a0a"></div>
<div class="r" style="left:111.1px;top:3442px;width:626.9px;height:2px;background:#000"></div>
<div class="r" style="left:1098.4px;top:3442px;width:287.8px;height:2px;background:#0a0a0a"></div>
<div class="t" style="top:2624px;font-size:24px;line-height:24px;left:-403px;width:1200px;text-align:center;">BV<span class="s" style="top:1px">DSS</span></div>
<div class="t" style="top:2664px;font-size:24px;line-height:24px;left:-403px;width:1200px;text-align:center;"><svg class="tri" viewBox="0 0 24 20"><path d="M12 1.2 L22.8 19 L1.2 19 Z" fill="none" stroke="#000" stroke-width="1.3"/></svg>BV<span class="s" style="top:1px">DSS</span>/<svg class="tri" viewBox="0 0 24 20"><path d="M12 1.2 L22.8 19 L1.2 19 Z" fill="none" stroke="#000" stroke-width="1.3"/></svg>T<span class="s" style="top:1px">J</span></div>
<div class="t" style="top:2724px;font-size:24px;line-height:24px;left:-403px;width:1200px;text-align:center;">R<span class="s" style="top:2px">DS(ON)</span></div>
<div class="t" style="top:2789px;font-size:24px;line-height:24px;left:-403px;width:1200px;text-align:center;">V<span class="s" style="top:2px">GS(th)</span></div>
<div class="t" style="top:2830px;font-size:24px;line-height:24px;left:-403px;width:1200px;text-align:center;"><svg class="tri" viewBox="0 0 24 20"><path d="M12 1.2 L22.8 19 L1.2 19 Z" fill="none" stroke="#000" stroke-width="1.3"/></svg>V<span class="s" style="top:2px">GS(th)</span></div>
<div class="t" style="top:2890px;font-size:24px;line-height:24px;left:-403px;width:1200px;text-align:center;">I<span class="s" style="top:1px">DSS</span></div>
<div class="t" style="top:2955px;font-size:24px;line-height:24px;left:-403px;width:1200px;text-align:center;">I<span class="s" style="top:1px">GSS</span></div>
<div class="t" style="top:2997px;font-size:24px;line-height:24px;left:-403px;width:1200px;text-align:center;">gfs</div>
<div class="t" style="top:3038px;font-size:24px;line-height:24px;left:-403px;width:1200px;text-align:center;">R<span class="s" style="top:2px">g</span></div>
<div class="t" style="top:3080px;font-size:24px;line-height:24px;left:-403px;width:1200px;text-align:center;">Q<span class="s" style="top:2px">g</span></div>
<div class="t" style="top:3122px;font-size:24px;line-height:24px;left:-403px;width:1200px;text-align:center;">Q<span class="s" style="top:2px">gs</span></div>
<div class="t" style="top:3163px;font-size:24px;line-height:24px;left:-403px;width:1200px;text-align:center;">Q<span class="s" style="top:2px">gd</span></div>
<div class="t" style="top:3205px;font-size:24px;line-height:24px;left:-403px;width:1200px;text-align:center;">T<span class="s" style="top:2px">d(on)</span></div>
<div class="t" style="top:3247px;font-size:24px;line-height:24px;left:-403px;width:1200px;text-align:center;">T<span class="s" style="top:2px">r</span></div>
<div class="t" style="top:3288px;font-size:24px;line-height:24px;left:-403px;width:1200px;text-align:center;">T<span class="s" style="top:2px">d(off)</span></div>
<div class="t" style="top:3330px;font-size:24px;line-height:24px;left:-403px;width:1200px;text-align:center;">T<span class="s" style="top:2px">f</span></div>
<div class="t" style="top:3372px;font-size:24px;line-height:24px;left:-403px;width:1200px;text-align:center;">C<span class="s" style="top:2px">iss</span></div>
<div class="t" style="top:3413px;font-size:24px;line-height:24px;left:-403px;width:1200px;text-align:center;">C<span class="s" style="top:2px">oss</span></div>
<div class="t" style="top:3455px;font-size:24px;line-height:24px;left:-403px;width:1200px;text-align:center;">C<span class="s" style="top:2px">rss</span></div>
<div class="t" style="top:2624px;font-size:24px;line-height:24px;left:285.3px;">Drain-Source Breakdown Voltage</div>
<div class="t" style="top:2664px;font-size:24px;line-height:24px;left:285.3px;">BV<span class="s" style="top:2px">DSS</span> Temperature Coefficient</div>
<div class="t" style="top:2724px;font-size:24px;line-height:24px;left:285.3px;">Static Drain-Source On-Resistance<span class="p">2</span></div>
<div class="t" style="top:2789px;font-size:24px;line-height:24px;left:285.3px;">Gate Threshold Voltage</div>
<div class="t" style="top:2830px;font-size:24px;line-height:24px;left:285.3px;">V<span class="s" style="top:2px">GS(th)</span> Temperature Coefficient</div>
<div class="t" style="top:2890px;font-size:24px;line-height:24px;left:285.3px;">Drain-Source Leakage Current</div>
<div class="t" style="top:2955px;font-size:24px;line-height:24px;left:285.3px;">Gate-Source Leakage Current</div>
<div class="t" style="top:2997px;font-size:24px;line-height:24px;left:285.3px;">Forward Transconductance</div>
<div class="t" style="top:3038px;font-size:24px;line-height:24px;left:285.3px;">Gate Resistance</div>
<div class="t" style="top:3080px;font-size:24px;line-height:24px;left:285.3px;">Total Gate Charge (-4.5V)</div>
<div class="t" style="top:3122px;font-size:24px;line-height:24px;left:285.3px;">Gate-Source Charge</div>
<div class="t" style="top:3163px;font-size:24px;line-height:24px;left:285.3px;">Gate-Drain Charge</div>
<div class="t" style="top:3205px;font-size:24px;line-height:24px;left:285.3px;">Turn-On Delay Time</div>
<div class="t" style="top:3247px;font-size:24px;line-height:24px;left:285.3px;">Rise Time</div>
<div class="t" style="top:3288px;font-size:24px;line-height:24px;left:285.3px;">Turn-Off Delay Time</div>
<div class="t" style="top:3330px;font-size:24px;line-height:24px;left:285.3px;">Fall Time</div>
<div class="t" style="top:3372px;font-size:24px;line-height:24px;left:285.3px;">Input Capacitance</div>
<div class="t" style="top:3413px;font-size:24px;line-height:24px;left:285.3px;">Output Capacitance</div>
<div class="t" style="top:3455px;font-size:24px;line-height:24px;left:285.3px;">Reverse Transfer Capacitance</div>
<div class="t" style="top:2624px;font-size:24px;line-height:24px;left:741.4px;">V<span class="s" style="top:1px">GS</span>=0V , I<span class="s" style="top:1px">D</span>=-250uA</div>
<div class="t" style="top:2664px;font-size:24px;line-height:24px;left:741.4px;">Reference to 25<span class="dg">°</span>C , I<span class="s" style="top:1px">D</span>=-1mA</div>
<div class="t" style="top:2705px;font-size:24px;line-height:24px;left:741.4px;">V<span class="s" style="top:1px">GS</span>=-10V , I<span class="s" style="top:1px">D</span>=-15A</div>
<div class="t" style="top:2747px;font-size:24px;line-height:24px;left:741.4px;">V<span class="s" style="top:1px">GS</span>=-4.5V , I<span class="s" style="top:1px">D</span>=-10A</div>
<div class="t" style="top:2807px;font-size:24px;line-height:24px;left:741.4px;">V<span class="s" style="top:1px">GS</span>=V<span class="s" style="top:1px">DS</span> , I<span class="s" style="top:1px">D</span> =-250uA</div>
<div class="t" style="top:2872px;font-size:24px;line-height:24px;left:741.4px;">V<span class="s" style="top:1px">DS</span>=-24V , V<span class="s" style="top:1px">GS</span>=0V , T<span class="s" style="top:1px">J</span>=25<span class="dg">°</span>C</div>
<div class="t" style="top:2914px;font-size:24px;line-height:24px;left:741.4px;">V<span class="s" style="top:1px">DS</span>=-24V , V<span class="s" style="top:1px">GS</span>=0V , T<span class="s" style="top:1px">J</span>=55<span class="dg">°</span>C</div>
<div class="t" style="top:2955px;font-size:24px;line-height:24px;left:741.4px;">V<span class="s" style="top:1px">GS</span>=<span style="display:inline-block;transform:scaleX(1.45);margin:0 4px 0 3px">±</span>20V , V<span class="s" style="top:1px">DS</span>=0V</div>
<div class="t" style="top:2997px;font-size:24px;line-height:24px;left:741.4px;">V<span class="s" style="top:1px">DS</span>=-5V , I<span class="s" style="top:1px">D</span>=-10A</div>
<div class="t" style="top:3038px;font-size:24px;line-height:24px;left:741.4px;">V<span class="s" style="top:1px">DS</span>=0V , V<span class="s" style="top:1px">GS</span>=0V , f=1MHz</div>
<div class="t" style="top:3119px;font-size:24px;line-height:24px;left:741.4px;">V<span class="s" style="top:1px">DS</span>=-15V , V<span class="s" style="top:1px">GS</span>=-4.5V , I<span class="s" style="top:1px">D</span>=-15A</div>
<div class="t" style="top:3411px;font-size:24px;line-height:24px;left:741.4px;">V<span class="s" style="top:1px">DS</span>=-15V , V<span class="s" style="top:1px">GS</span>=0V , f=1MHz</div>
<div class="t" style="top:3245px;font-size:24px;line-height:24px;left:741.4px;">V<span class="s" style="top:1px">DD</span>=-15V , V<span class="s" style="top:1px">GS</span>=-10V , R<span class="s" style="top:1px">G</span>=3.3<span style="font-family:'Liberation Serif',serif">Ω</span>,</div>
<div class="t" style="top:3288px;font-size:24px;line-height:24px;left:741.4px;">I<span class="s" style="top:1px">D</span>=-15A</div>
<div class="t" style="top:2624px;font-size:24px;line-height:24px;left:546.5px;width:1200px;text-align:center;">-30</div>
<div class="t" style="top:2624px;font-size:24px;line-height:24px;left:642.5px;width:1200px;text-align:center;">---</div>
<div class="t" style="top:2624px;font-size:24px;line-height:24px;left:738.4px;width:1200px;text-align:center;">---</div>
<div class="t" style="top:2664px;font-size:24px;line-height:24px;left:546.5px;width:1200px;text-align:center;">---</div>
<div class="t" style="top:2664px;font-size:24px;line-height:24px;left:642.5px;width:1200px;text-align:center;">-0.022</div>
<div class="t" style="top:2664px;font-size:24px;line-height:24px;left:738.4px;width:1200px;text-align:center;">---</div>
<div class="t" style="top:2705px;font-size:24px;line-height:24px;left:546.5px;width:1200px;text-align:center;">---</div>
<div class="t" style="top:2705px;font-size:24px;line-height:24px;left:642.5px;width:1200px;text-align:center;">16</div>
<div class="t" style="top:2705px;font-size:24px;line-height:24px;left:738.4px;width:1200px;text-align:center;">20</div>
<div class="t" style="top:2747px;font-size:24px;line-height:24px;left:546.5px;width:1200px;text-align:center;">---</div>
<div class="t" style="top:2747px;font-size:24px;line-height:24px;left:642.5px;width:1200px;text-align:center;">20</div>
<div class="t" style="top:2747px;font-size:24px;line-height:24px;left:738.4px;width:1200px;text-align:center;">25</div>
<div class="t" style="top:2789px;font-size:24px;line-height:24px;left:546.5px;width:1200px;text-align:center;">-1.0</div>
<div class="t" style="top:2789px;font-size:24px;line-height:24px;left:642.5px;width:1200px;text-align:center;">---</div>
<div class="t" style="top:2789px;font-size:24px;line-height:24px;left:738.4px;width:1200px;text-align:center;">-2.5</div>
<div class="t" style="top:2830px;font-size:24px;line-height:24px;left:546.5px;width:1200px;text-align:center;">---</div>
<div class="t" style="top:2830px;font-size:24px;line-height:24px;left:642.5px;width:1200px;text-align:center;">4.6</div>
<div class="t" style="top:2830px;font-size:24px;line-height:24px;left:738.4px;width:1200px;text-align:center;">---</div>
<div class="t" style="top:2872px;font-size:24px;line-height:24px;left:546.5px;width:1200px;text-align:center;">---</div>
<div class="t" style="top:2872px;font-size:24px;line-height:24px;left:642.5px;width:1200px;text-align:center;">---</div>
<div class="t" style="top:2872px;font-size:24px;line-height:24px;left:738.4px;width:1200px;text-align:center;">-1</div>
<div class="t" style="top:2914px;font-size:24px;line-height:24px;left:546.5px;width:1200px;text-align:center;">---</div>
<div class="t" style="top:2914px;font-size:24px;line-height:24px;left:642.5px;width:1200px;text-align:center;">---</div>
<div class="t" style="top:2914px;font-size:24px;line-height:24px;left:738.4px;width:1200px;text-align:center;">-5</div>
<div class="t" style="top:2955px;font-size:24px;line-height:24px;left:546.5px;width:1200px;text-align:center;">---</div>
<div class="t" style="top:2955px;font-size:24px;line-height:24px;left:642.5px;width:1200px;text-align:center;">---</div>
<div class="t" style="top:2955px;font-size:24px;line-height:24px;left:738.4px;width:1200px;text-align:center;"><span style="display:inline-block;transform:scaleX(1.45);margin:0 4px 0 3px">±</span>100</div>
<div class="t" style="top:2997px;font-size:24px;line-height:24px;left:546.5px;width:1200px;text-align:center;">---</div>
<div class="t" style="top:2997px;font-size:24px;line-height:24px;left:642.5px;width:1200px;text-align:center;">5</div>
<div class="t" style="top:2997px;font-size:24px;line-height:24px;left:738.4px;width:1200px;text-align:center;">---</div>
<div class="t" style="top:3038px;font-size:24px;line-height:24px;left:546.5px;width:1200px;text-align:center;">---</div>
<div class="t" style="top:3038px;font-size:24px;line-height:24px;left:642.5px;width:1200px;text-align:center;">13</div>
<div class="t" style="top:3038px;font-size:24px;line-height:24px;left:738.4px;width:1200px;text-align:center;">---</div>
<div class="t" style="top:3080px;font-size:24px;line-height:24px;left:546.5px;width:1200px;text-align:center;">---</div>
<div class="t" style="top:3080px;font-size:24px;line-height:24px;left:642.5px;width:1200px;text-align:center;">12.5</div>
<div class="t" style="top:3080px;font-size:24px;line-height:24px;left:738.4px;width:1200px;text-align:center;">---</div>
<div class="t" style="top:3122px;font-size:24px;line-height:24px;left:546.5px;width:1200px;text-align:center;">---</div>
<div class="t" style="top:3122px;font-size:24px;line-height:24px;left:642.5px;width:1200px;text-align:center;">5.4</div>
<div class="t" style="top:3122px;font-size:24px;line-height:24px;left:738.4px;width:1200px;text-align:center;">---</div>
<div class="t" style="top:3163px;font-size:24px;line-height:24px;left:546.5px;width:1200px;text-align:center;">---</div>
<div class="t" style="top:3163px;font-size:24px;line-height:24px;left:642.5px;width:1200px;text-align:center;">5</div>
<div class="t" style="top:3163px;font-size:24px;line-height:24px;left:738.4px;width:1200px;text-align:center;">---</div>
<div class="t" style="top:3205px;font-size:24px;line-height:24px;left:546.5px;width:1200px;text-align:center;">---</div>
<div class="t" style="top:3205px;font-size:24px;line-height:24px;left:642.5px;width:1200px;text-align:center;">4.4</div>
<div class="t" style="top:3205px;font-size:24px;line-height:24px;left:738.4px;width:1200px;text-align:center;">---</div>
<div class="t" style="top:3247px;font-size:24px;line-height:24px;left:546.5px;width:1200px;text-align:center;">---</div>
<div class="t" style="top:3247px;font-size:24px;line-height:24px;left:642.5px;width:1200px;text-align:center;">11.2</div>
<div class="t" style="top:3247px;font-size:24px;line-height:24px;left:738.4px;width:1200px;text-align:center;">---</div>
<div class="t" style="top:3288px;font-size:24px;line-height:24px;left:546.5px;width:1200px;text-align:center;">---</div>
<div class="t" style="top:3288px;font-size:24px;line-height:24px;left:642.5px;width:1200px;text-align:center;">34</div>
<div class="t" style="top:3288px;font-size:24px;line-height:24px;left:738.4px;width:1200px;text-align:center;">---</div>
<div class="t" style="top:3330px;font-size:24px;line-height:24px;left:546.5px;width:1200px;text-align:center;">---</div>
<div class="t" style="top:3330px;font-size:24px;line-height:24px;left:642.5px;width:1200px;text-align:center;">18</div>
<div class="t" style="top:3330px;font-size:24px;line-height:24px;left:738.4px;width:1200px;text-align:center;">---</div>
<div class="t" style="top:3372px;font-size:24px;line-height:24px;left:546.5px;width:1200px;text-align:center;">---</div>
<div class="t" style="top:3372px;font-size:24px;line-height:24px;left:642.5px;width:1200px;text-align:center;">1345</div>
<div class="t" style="top:3372px;font-size:24px;line-height:24px;left:738.4px;width:1200px;text-align:center;">---</div>
<div class="t" style="top:3413px;font-size:24px;line-height:24px;left:546.5px;width:1200px;text-align:center;">---</div>
<div class="t" style="top:3413px;font-size:24px;line-height:24px;left:642.5px;width:1200px;text-align:center;">194</div>
<div class="t" style="top:3413px;font-size:24px;line-height:24px;left:738.4px;width:1200px;text-align:center;">---</div>
<div class="t" style="top:3455px;font-size:24px;line-height:24px;left:546.5px;width:1200px;text-align:center;">---</div>
<div class="t" style="top:3455px;font-size:24px;line-height:24px;left:642.5px;width:1200px;text-align:center;">158</div>
<div class="t" style="top:3455px;font-size:24px;line-height:24px;left:738.4px;width:1200px;text-align:center;">---</div>
<div class="t" style="top:2624px;font-size:24px;line-height:24px;left:837px;width:1200px;text-align:center;">V</div>
<div class="t" style="top:2664px;font-size:24px;line-height:24px;left:837px;width:1200px;text-align:center;">V/<span class="dg">°</span>C</div>
<div class="t" style="top:2724px;font-size:24px;line-height:24px;left:837px;width:1200px;text-align:center;">m<span style="font-family:'Liberation Serif',serif">Ω</span></div>
<div class="t" style="top:2789px;font-size:24px;line-height:24px;left:837px;width:1200px;text-align:center;">V</div>
<div class="t" style="top:2830px;font-size:24px;line-height:24px;left:837px;width:1200px;text-align:center;">mV/<span class="dg">°</span>C</div>
<div class="t" style="top:2890px;font-size:24px;line-height:24px;left:837px;width:1200px;text-align:center;">uA</div>
<div class="t" style="top:2955px;font-size:24px;line-height:24px;left:837px;width:1200px;text-align:center;">nA</div>
<div class="t" style="top:2997px;font-size:24px;line-height:24px;left:837px;width:1200px;text-align:center;">S</div>
<div class="t" style="top:3038px;font-size:24px;line-height:24px;left:837px;width:1200px;text-align:center;"><span style="font-family:'Liberation Serif',serif">Ω</span></div>
<div class="t" style="top:3119px;font-size:24px;line-height:24px;left:837px;width:1200px;text-align:center;">nC</div>
<div class="t" style="top:3265px;font-size:24px;line-height:24px;left:837px;width:1200px;text-align:center;">ns</div>
<div class="t" style="top:3411px;font-size:24px;line-height:24px;left:837px;width:1200px;text-align:center;">pF</div>
<div class="t" style="top:3538px;font-size:29.35px;line-height:29.35px;font-weight:bold;left:128.2px;">Diode Characteristics</div>
<div class="r" style="left:737px;top:3601.3px;width:2px;height:253.4px;background:#787878"></div>
<div class="r" style="left:1097px;top:3601.3px;width:2px;height:253.4px;background:#787878"></div>
<div class="r" style="left:1194px;top:3601.3px;width:2px;height:253.4px;background:#787878"></div>
<div class="r" style="left:1290px;top:3601.3px;width:2px;height:253.4px;background:#787878"></div>
<div class="r" style="left:1385px;top:3601.3px;width:2px;height:253.4px;background:#787878"></div>
<div class="r" style="left:279px;top:3601.3px;width:2px;height:253.4px;background:#0e3464"></div>
<div class="r" style="left:283px;top:3601.3px;width:2px;height:253.4px;background:#0e3464"></div>
<div class="r" style="left:111.1px;top:3643.1px;width:1378.9px;height:3.8px;background:#0e3464"></div>
<div class="r" style="left:111.1px;top:3601.3px;width:1381.9px;height:2px;background:#0e3464"></div>
<div class="r" style="left:111.1px;top:3604.2px;width:1378.9px;height:1.1px;background:#0e3464"></div>
<div class="r" style="left:111.1px;top:3850.8px;width:1381.9px;height:3.9px;background:#0e3464"></div>
<div class="r" style="left:111.1px;top:3601.3px;width:3.8px;height:253.4px;background:#0e3464"></div>
<div class="r" style="left:1491px;top:3601.3px;width:2px;height:253.4px;background:#0e3464"></div>
<div class="r" style="left:1488px;top:3604.2px;width:2.1px;height:250.5px;background:#0e3464"></div>
<div class="t" style="top:3616px;font-size:24px;line-height:24px;font-weight:bold;color:#0e3464;left:-403px;width:1200px;text-align:center;">Symbol</div>
<div class="t" style="top:3616px;font-size:24px;line-height:24px;font-weight:bold;color:#0e3464;left:-90px;width:1200px;text-align:center;">Parameter</div>
<div class="t" style="top:3616px;font-size:24px;line-height:24px;font-weight:bold;color:#0e3464;left:329.5px;width:1200px;text-align:center;">Conditions</div>
<div class="t" style="top:3616px;font-size:24px;line-height:24px;font-weight:bold;color:#0e3464;left:546.5px;width:1200px;text-align:center;">Min.</div>
<div class="t" style="top:3616px;font-size:24px;line-height:24px;font-weight:bold;color:#0e3464;left:642.5px;width:1200px;text-align:center;">Typ.</div>
<div class="t" style="top:3616px;font-size:24px;line-height:24px;font-weight:bold;color:#0e3464;left:738.4px;width:1200px;text-align:center;">Max.</div>
<div class="t" style="top:3616px;font-size:24px;line-height:24px;font-weight:bold;color:#0e3464;left:837px;width:1200px;text-align:center;">Unit</div>
<div class="r" style="left:111.1px;top:3684px;width:626.9px;height:2px;background:#000"></div>
<div class="r" style="left:1098.4px;top:3684px;width:390.6px;height:2px;background:#0a0a0a"></div>
<div class="r" style="left:111.1px;top:3726px;width:626.9px;height:2px;background:#000"></div>
<div class="r" style="left:738px;top:3726px;width:360.4px;height:2px;background:#0a0a0a"></div>
<div class="r" style="left:1098.4px;top:3726px;width:390.6px;height:2px;background:#0a0a0a"></div>
<div class="r" style="left:111.1px;top:3768px;width:626.9px;height:2px;background:#000"></div>
<div class="r" style="left:738px;top:3768px;width:360.4px;height:2px;background:#0a0a0a"></div>
<div class="r" style="left:1098.4px;top:3768px;width:390.6px;height:2px;background:#0a0a0a"></div>
<div class="r" style="left:111.1px;top:3809px;width:626.9px;height:2px;background:#000"></div>
<div class="r" style="left:1098.4px;top:3809px;width:390.6px;height:2px;background:#0a0a0a"></div>
<div class="t" style="top:3657px;font-size:24px;line-height:24px;left:-403px;width:1200px;text-align:center;">I<span class="s" style="top:1px">S</span></div>
<div class="t" style="top:3657px;font-size:24px;line-height:24px;left:285.3px;">Continuous Source Current<span class="p">1,5</span></div>
<div class="t" style="top:3657px;font-size:24px;line-height:24px;left:546.5px;width:1200px;text-align:center;">---</div>
<div class="t" style="top:3657px;font-size:24px;line-height:24px;left:642.5px;width:1200px;text-align:center;">---</div>
<div class="t" style="top:3657px;font-size:24px;line-height:24px;left:738.4px;width:1200px;text-align:center;">-40</div>
<div class="t" style="top:3657px;font-size:24px;line-height:24px;left:837px;width:1200px;text-align:center;">A</div>
<div class="t" style="top:3696px;font-size:24px;line-height:24px;left:-403px;width:1200px;text-align:center;">I<span class="s" style="top:1px">SM</span></div>
<div class="t" style="top:3696px;font-size:24px;line-height:24px;left:285.3px;">Pulsed Source Current<span class="p">2,5</span></div>
<div class="t" style="top:3696px;font-size:24px;line-height:24px;left:546.5px;width:1200px;text-align:center;">---</div>
<div class="t" style="top:3696px;font-size:24px;line-height:24px;left:642.5px;width:1200px;text-align:center;">---</div>
<div class="t" style="top:3696px;font-size:24px;line-height:24px;left:738.4px;width:1200px;text-align:center;">-75</div>
<div class="t" style="top:3696px;font-size:24px;line-height:24px;left:837px;width:1200px;text-align:center;">A</div>
<div class="t" style="top:3738px;font-size:24px;line-height:24px;left:-403px;width:1200px;text-align:center;">V<span class="s" style="top:1px">SD</span></div>
<div class="t" style="top:3738px;font-size:24px;line-height:24px;left:285.3px;">Diode Forward Voltage<span class="p">2</span></div>
<div class="t" style="top:3738px;font-size:24px;line-height:24px;left:546.5px;width:1200px;text-align:center;">---</div>
<div class="t" style="top:3738px;font-size:24px;line-height:24px;left:642.5px;width:1200px;text-align:center;">---</div>
<div class="t" style="top:3738px;font-size:24px;line-height:24px;left:738.4px;width:1200px;text-align:center;">-1.2</div>
<div class="t" style="top:3738px;font-size:24px;line-height:24px;left:837px;width:1200px;text-align:center;">V</div>
<div class="t" style="top:3779px;font-size:24px;line-height:24px;left:-403px;width:1200px;text-align:center;">t<span class="s" style="top:2px">rr</span></div>
<div class="t" style="top:3779px;font-size:24px;line-height:24px;left:285.3px;">Reverse Recovery Time</div>
<div class="t" style="top:3779px;font-size:24px;line-height:24px;left:546.5px;width:1200px;text-align:center;">---</div>
<div class="t" style="top:3779px;font-size:24px;line-height:24px;left:642.5px;width:1200px;text-align:center;">12.4</div>
<div class="t" style="top:3779px;font-size:24px;line-height:24px;left:738.4px;width:1200px;text-align:center;">---</div>
<div class="t" style="top:3779px;font-size:24px;line-height:24px;left:837px;width:1200px;text-align:center;">nS</div>
<div class="t" style="top:3822px;font-size:24px;line-height:24px;left:-403px;width:1200px;text-align:center;">Q<span class="s" style="top:2px">rr</span></div>
<div class="t" style="top:3822px;font-size:24px;line-height:24px;left:285.3px;">Reverse Recovery Charge</div>
<div class="t" style="top:3822px;font-size:24px;line-height:24px;left:546.5px;width:1200px;text-align:center;">---</div>
<div class="t" style="top:3822px;font-size:24px;line-height:24px;left:642.5px;width:1200px;text-align:center;">5</div>
<div class="t" style="top:3822px;font-size:24px;line-height:24px;left:738.4px;width:1200px;text-align:center;">---</div>
<div class="t" style="top:3822px;font-size:24px;line-height:24px;left:837px;width:1200px;text-align:center;">nC</div>
<div class="t" style="top:3674px;font-size:24px;line-height:24px;left:741.4px;">V<span class="s" style="top:1px">G</span>=V<span class="s" style="top:1px">D</span>=0V , Force Current</div>
<div class="t" style="top:3738px;font-size:24px;line-height:24px;left:741.4px;">V<span class="s" style="top:1px">GS</span>=0V , I<span class="s" style="top:1px">S</span>=-1A , T<span class="s" style="top:1px">J</span>=25<span class="dg">°</span>C</div>
<div class="t" style="top:3778px;font-size:24px;line-height:24px;left:741.4px;">I<span class="s" style="top:1px">F</span>=-15A , dI/dt=100A/µs ,</div>
<div class="t" style="top:3823px;font-size:24px;line-height:24px;left:741.4px;">T<span class="s" style="top:1px">J</span>=25<span class="dg">°</span>C</div>
<div class="t" style="top:3887px;font-size:21.35px;line-height:21.35px;left:133.6px;">Note :</div>
<div class="t" style="top:3914px;font-size:21.35px;line-height:21.35px;left:133.6px;">1.The data tested by surface mounted on a 1 inch<span class="p">2</span> FR-4 board with 2OZ copper.</div>
<div class="t" style="top:3941px;font-size:21.35px;line-height:21.35px;left:133.6px;">2.The data tested by pulsed , pulse width <svg class="le" viewBox="0 0 21.35 18"><path d="M16.6 1.2 L5 5.3 L16.6 9.4 M4.8 12.2 H16.8 M4.8 15.6 H16.8" fill="none" stroke="#000" stroke-width="1.25"/></svg> 300us , duty cycle <svg class="le" viewBox="0 0 21.35 18"><path d="M16.6 1.2 L5 5.3 L16.6 9.4 M4.8 12.2 H16.8 M4.8 15.6 H16.8" fill="none" stroke="#000" stroke-width="1.25"/></svg> 2%</div>
<div class="t" style="top:3967px;font-size:21.35px;line-height:21.35px;left:133.6px;">3.The EAS data shows Max. rating . The test condition is V<span class="s" style="top:3px">DD</span>=-25V,V<span class="s" style="top:3px">GS</span>=-10V,L=0.1mH,I<span class="s" style="top:3px">AS</span>=-38A</div>
<div class="t" style="top:3994px;font-size:21.35px;line-height:21.35px;left:133.6px;">4.The power dissipation is limited by 150<span class="dg">°</span>C  junction temperature</div>
<div class="t" style="top:4021px;font-size:21.35px;line-height:21.35px;left:133.6px;">5.The data is theoretically the same as I<span class="s" style="top:3px">D</span> and I<span class="s" style="top:3px">DM</span> , in real applications , should be limited by total power dissipation.</div>
<div class="r" style="left:71px;top:4307.7px;width:1460.5px;height:4.4px;background:#000"></div>
<div class="t" style="top:4326px;font-size:32px;line-height:32px;left:727px;letter-spacing:0.2px;">www.ejiguan.cn</div>
<div class="t" style="top:4330px;font-size:37.4px;line-height:37.4px;left:879.5px;width:1200px;text-align:center;">2</div>
</body></html>
